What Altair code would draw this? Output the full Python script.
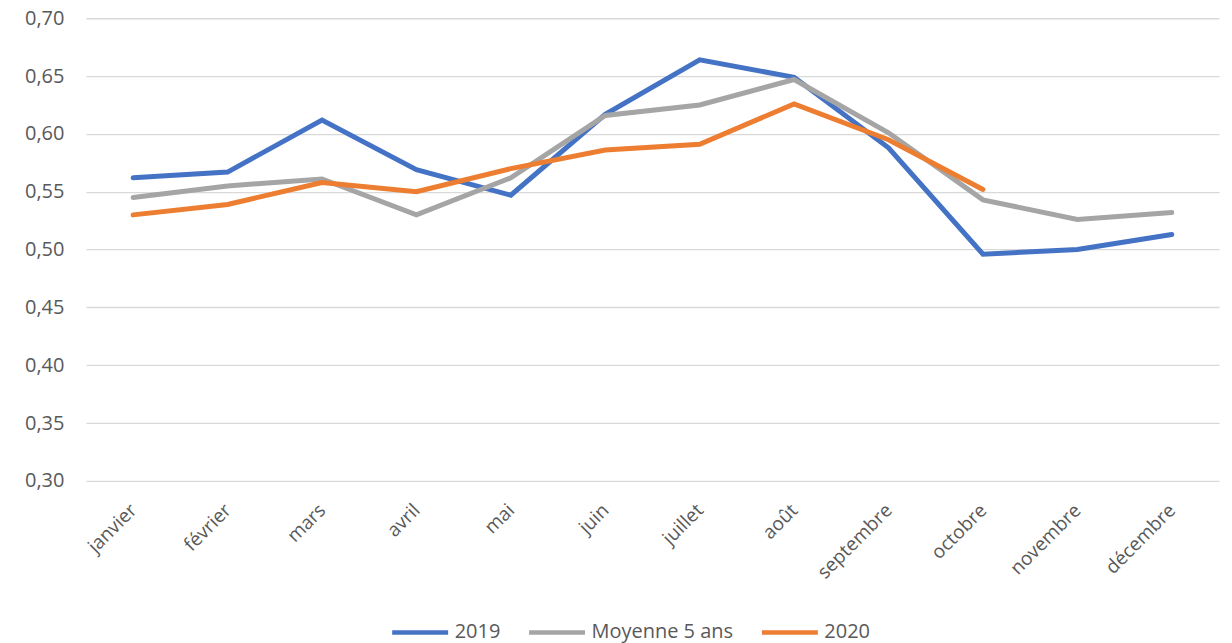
import altair as alt
import pandas as pd

months = ["janvier", "février", "mars", "avril", "mai", "juin", "juillet",
          "août", "septembre", "octobre", "novembre", "décembre"]
series_names = ["2019", "Moyenne 5 ans", "2020"]
v2019 = [0.562, 0.567, 0.612, 0.569, 0.547, 0.617, 0.664, 0.649, 0.588, 0.496, 0.500, 0.513]
vavg = [0.545, 0.555, 0.561, 0.530, 0.562, 0.616, 0.625, 0.647, 0.601, 0.543, 0.526, 0.532]
v2020 = [0.530, 0.539, 0.558, 0.550, 0.570, 0.586, 0.591, 0.626, 0.595, 0.552]
colors = ["#4472C4", "#A5A5A5", "#ED7D31"]

rows = []
for name, vals in zip(series_names, [v2019, vavg, v2020]):
    for m, v in zip(months, vals):
        rows.append({"mois": m, "valeur": v, "serie": name})
df = pd.DataFrame(rows)

FONT = "Open Sans"
TXT = "#595959"

chart = alt.Chart(df).mark_line(strokeWidth=5, strokeCap="round").encode(
    x=alt.X("mois:N", sort=months, title=None,
            axis=alt.Axis(labelAngle=-45, labelAlign="right", labelBaseline="middle",
                          labelFontSize=19, labelColor=TXT, labelFont=FONT,
                          ticks=False, domain=False, grid=False, labelPadding=26)),
    y=alt.Y("valeur:Q", title=None,
            scale=alt.Scale(domain=[0.30, 0.70], nice=False, zero=False),
            axis=alt.Axis(values=[0.30, 0.35, 0.40, 0.45, 0.50, 0.55, 0.60, 0.65, 0.70],
                          labelExpr="replace(format(datum.value, '.2f'), '.', ',')",
                          labelFontSize=20, labelColor=TXT, labelFont=FONT,
                          ticks=False, domain=False, grid=True, gridColor="#D9D9D9",
                          gridWidth=1.3, labelPadding=22, minExtent=73, maxExtent=73)),
    color=alt.Color("serie:N", sort=series_names, title=None,
                    scale=alt.Scale(domain=series_names, range=colors),
                    legend=alt.Legend(orient="none", legendX=304, legendY=584,
                                      direction="horizontal", symbolType="stroke",
                                      symbolSize=3136, symbolStrokeWidth=4.5,
                                      labelFontSize=20, labelColor=TXT, labelFont=FONT,
                                      columnPadding=19, labelOffset=4, padding=0)),
    order=alt.Order("serie_order:Q"),
).transform_calculate(
    serie_order="indexof(['2019','Moyenne 5 ans','2020'], datum.serie)"
).properties(
    width=1134, height=463, background="white",
    padding={"left": 5, "top": 0, "right": 5, "bottom": 5}
).configure_view(stroke=None)

chart.save("out.html", embed_options={"renderer": "svg", "actions": False})
